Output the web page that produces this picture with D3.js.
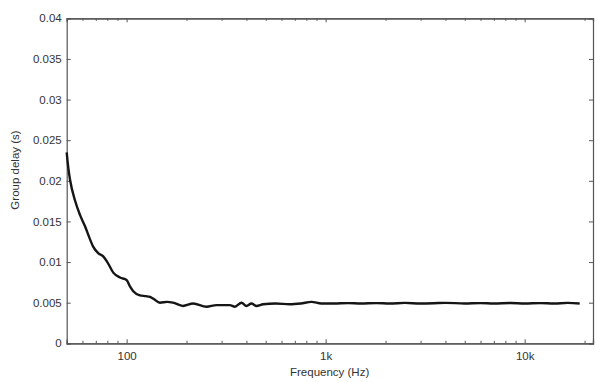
<!DOCTYPE html>
<html>
<head>
<meta charset="utf-8">
<script src="https://cdn.jsdelivr.net/npm/d3@7"></script>
<style>
  body { margin: 0; background: #fff; }
  svg text { font-family: "Liberation Sans", Arial, sans-serif; fill: #333; }
</style>
</head>
<body>
<div id="chart"></div>
<script>
var freqs = [50, 51, 52, 55, 58.3, 61.8, 65, 67.9, 72, 76.3, 80, 85.7, 92.6, 100, 104, 108, 116.6, 125, 131, 136, 147, 160, 171, 192, 216, 252, 283, 330, 350, 378, 400, 424, 449, 485, 560, 660, 750, 850, 950,
             1100, 1300, 1500, 1800, 2100, 2500, 3000, 3500, 4000, 5000, 6000, 7000, 8500, 10000, 12000, 14000, 16500, 18900];
var delays = [0.0235, 0.0215, 0.0201, 0.0176, 0.0158, 0.0144, 0.0130, 0.0119, 0.0111, 0.0107, 0.0100, 0.0087, 0.0081, 0.0078, 0.0070, 0.0064, 0.0059, 0.0058, 0.0057, 0.0055, 0.0050, 0.0051, 0.0050, 0.0046, 0.0049, 0.0045, 0.0047, 0.0047, 0.0045, 0.0050, 0.0046, 0.0049, 0.0046, 0.0048, 0.0049, 0.0048, 0.0049, 0.0051, 0.0049,
              0.0049, 0.00495, 0.0049, 0.00495, 0.0049, 0.00497, 0.0049, 0.00493, 0.00498, 0.0049, 0.00495, 0.0049, 0.00496, 0.0049, 0.00495, 0.0049, 0.00497, 0.0049];

var yTicks = [0, 0.005, 0.01, 0.015, 0.02, 0.025, 0.03, 0.035, 0.04];
var yTickLabels = ["0", "0.005", "0.01", "0.015", "0.02", "0.025", "0.03", "0.035", "0.04"];
var xMajor = [100, 1000, 10000];
var xMajorLabels = ["100", "1k", "10k"];
var xMinor = [60, 70, 80, 90, 200, 300, 400, 500, 600, 700, 800, 900,
              2000, 3000, 4000, 5000, 6000, 7000, 8000, 9000, 20000];

var margin = {top: 18.3, right: 2, bottom: 38.7, left: 66.7},
    width = 595 - margin.left - margin.right,
    height = 382 - margin.top - margin.bottom;

var svg = d3.select("#chart")
    .append("svg")
    .attr("width", 595)
    .attr("height", 382)
    .append("g")
    .attr("transform", "translate(" + margin.left + "," + margin.top + ")");

var x = d3.scaleLog().domain([50, 22050]).range([0, width]);
var y = d3.scaleLinear().domain([0, 0.04]).range([height, 0]);

var axisColor = "#555";

// bottom axis (ticks pointing inward)
var bottom = svg.append("g")
    .attr("transform", "translate(0," + height + ")")
    .call(d3.axisBottom(x).tickValues(xMajor).tickSize(-4).tickPadding(9)
          .tickFormat(function(d, i) { return xMajorLabels[i]; }));
var bottomMinor = svg.append("g")
    .attr("transform", "translate(0," + height + ")")
    .call(d3.axisBottom(x).tickValues(xMinor).tickSize(-2.5).tickFormat(""));

// top axis
var top = svg.append("g")
    .call(d3.axisTop(x).tickValues(xMajor).tickSize(-4).tickFormat(""));
var topMinor = svg.append("g")
    .call(d3.axisTop(x).tickValues(xMinor).tickSize(-2.5).tickFormat(""));

// left axis
var left = svg.append("g")
    .call(d3.axisLeft(y).tickValues(yTicks).tickSize(-4).tickPadding(5)
          .tickFormat(function(d, i) { return yTickLabels[i]; }));

// right axis
var right = svg.append("g")
    .attr("transform", "translate(" + width + ",0)")
    .call(d3.axisRight(y).tickValues(yTicks).tickSize(-4).tickFormat(""));

svg.selectAll(".domain").attr("stroke", axisColor).attr("stroke-width", 1.2);
svg.selectAll(".tick line").attr("stroke", axisColor).attr("stroke-width", 1);
svg.selectAll(".tick text").attr("font-size", 11.5).attr("fill", "#333")
    .style("font-family", "'Liberation Sans', Arial, sans-serif");

// curve
var line = d3.line()
    .x(function(d) { return x(d[0]); })
    .y(function(d) { return y(d[1]); })
    .curve(d3.curveMonotoneX);

svg.append("path")
    .datum(d3.zip(freqs, delays))
    .attr("fill", "none")
    .attr("stroke", "#151515")
    .attr("stroke-width", 2.4)
    .attr("stroke-linejoin", "round")
    .attr("d", line);

// axis labels
svg.append("text")
    .attr("text-anchor", "middle")
    .attr("x", x(1000) + 4)
    .attr("y", height + 33)
    .attr("font-size", 11.5)
    .text("Frequency (Hz)");

svg.append("text")
    .attr("text-anchor", "middle")
    .attr("transform", "rotate(-90)")
    .attr("x", -(170 - margin.top))
    .attr("y", -margin.left + 19)
    .attr("font-size", 11.5)
    .text("Group delay (s)");
</script>
</body>
</html>
